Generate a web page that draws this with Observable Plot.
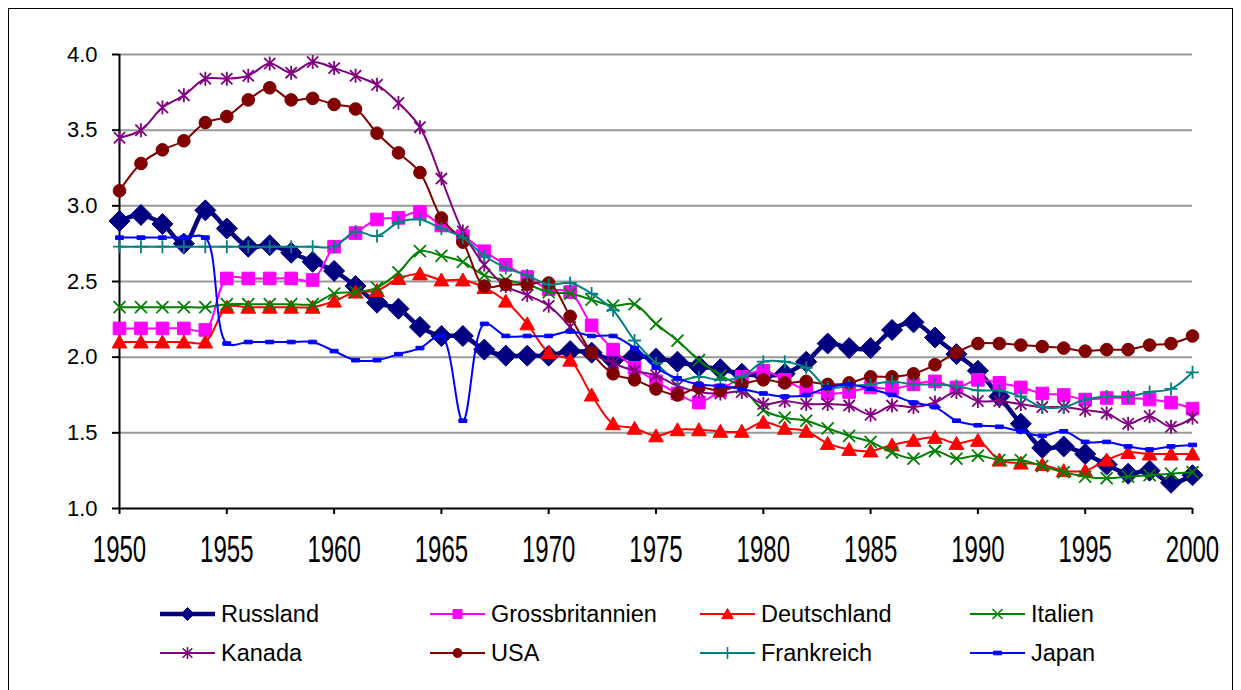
<!DOCTYPE html>
<html><head><meta charset="utf-8">
<script src="https://cdn.jsdelivr.net/npm/d3@7"></script>
<script src="https://cdn.jsdelivr.net/npm/@observablehq/plot@0.6"></script>
<style>
body{margin:0;background:#fff;font-family:"Liberation Sans",Arial,sans-serif;}
#frame{position:absolute;left:8px;top:8px;width:1225px;height:720px;border:1.5px solid #000;box-sizing:border-box;}
#chart{position:absolute;left:0;top:0;}
#legend{position:absolute;left:0;top:0;width:1241px;height:690px;}
.item{position:absolute;height:30px;line-height:30px;display:flex;align-items:center;font-size:23.5px;color:#000;white-space:nowrap;}
.item svg{margin-right:6px;overflow:visible;}
</style></head>
<body>
<div id="frame"></div>
<div id="chart"></div>
<div id="legend"></div>
<script>
const years = [1950,1951,1952,1953,1954,1955,1956,1957,1958,1959,1960,1961,1962,1963,1964,1965,1966,1967,1968,1969,1970,1971,1972,1973,1974,1975,1976,1977,1978,1979,1980,1981,1982,1983,1984,1985,1986,1987,1988,1989,1990,1991,1992,1993,1994,1995,1996,1997,1998,1999,2000];

const russland = [2.90,2.94,2.88,2.75,2.97,2.85,2.73,2.74,2.69,2.63,2.57,2.47,2.36,2.32,2.20,2.14,2.14,2.05,2.01,2.01,2.01,2.04,2.03,1.98,2.01,1.99,1.97,1.94,1.92,1.89,1.88,1.89,1.97,2.09,2.06,2.06,2.18,2.23,2.13,2.02,1.91,1.74,1.56,1.40,1.41,1.36,1.29,1.23,1.25,1.17,1.22];
const grossbritannien = [2.19,2.19,2.19,2.19,2.18,2.52,2.52,2.52,2.52,2.51,2.73,2.82,2.91,2.92,2.96,2.87,2.80,2.70,2.61,2.53,2.45,2.43,2.21,2.05,1.93,1.84,1.76,1.70,1.78,1.87,1.91,1.85,1.78,1.76,1.77,1.80,1.79,1.82,1.84,1.80,1.85,1.83,1.80,1.76,1.75,1.72,1.73,1.73,1.72,1.70,1.66];
const deutschland = [2.10,2.10,2.10,2.10,2.10,2.33,2.33,2.33,2.33,2.33,2.37,2.43,2.44,2.52,2.55,2.51,2.51,2.46,2.37,2.22,2.03,1.98,1.75,1.56,1.53,1.48,1.52,1.52,1.51,1.51,1.57,1.53,1.51,1.43,1.39,1.38,1.42,1.45,1.47,1.43,1.45,1.32,1.30,1.29,1.25,1.25,1.32,1.37,1.36,1.36,1.36];
const italien = [2.33,2.33,2.33,2.33,2.33,2.35,2.35,2.35,2.35,2.35,2.42,2.43,2.46,2.56,2.70,2.67,2.63,2.54,2.51,2.48,2.43,2.42,2.38,2.34,2.35,2.22,2.11,1.98,1.88,1.80,1.65,1.60,1.58,1.53,1.48,1.44,1.37,1.33,1.38,1.33,1.35,1.32,1.32,1.28,1.24,1.21,1.20,1.21,1.22,1.23,1.24];
const kanada = [3.45,3.50,3.65,3.73,3.84,3.84,3.86,3.94,3.88,3.95,3.91,3.86,3.80,3.68,3.52,3.18,2.83,2.61,2.47,2.41,2.34,2.20,2.03,1.96,1.91,1.88,1.81,1.77,1.76,1.77,1.69,1.71,1.69,1.69,1.68,1.62,1.68,1.67,1.70,1.77,1.71,1.71,1.69,1.67,1.67,1.65,1.63,1.56,1.61,1.54,1.60];
const usa = [3.10,3.28,3.37,3.43,3.55,3.59,3.70,3.78,3.70,3.71,3.67,3.64,3.48,3.35,3.22,2.92,2.76,2.47,2.48,2.48,2.49,2.27,2.03,1.89,1.85,1.79,1.75,1.80,1.78,1.82,1.85,1.83,1.84,1.82,1.83,1.87,1.87,1.89,1.95,2.03,2.09,2.09,2.08,2.07,2.06,2.04,2.05,2.05,2.08,2.09,2.14];
const frankreich = [2.73,2.73,2.73,2.73,2.73,2.73,2.73,2.73,2.73,2.73,2.73,2.83,2.80,2.89,2.91,2.85,2.79,2.67,2.59,2.54,2.48,2.49,2.42,2.31,2.11,1.96,1.85,1.87,1.85,1.87,1.97,1.97,1.93,1.80,1.81,1.82,1.84,1.82,1.82,1.81,1.78,1.78,1.74,1.67,1.67,1.72,1.74,1.74,1.77,1.79,1.90];
const japan = [2.79,2.79,2.79,2.79,2.79,2.09,2.10,2.10,2.10,2.10,2.04,1.98,1.98,2.02,2.06,2.14,1.58,2.22,2.14,2.14,2.14,2.17,2.14,2.14,2.06,1.93,1.86,1.82,1.81,1.79,1.76,1.74,1.75,1.80,1.82,1.79,1.75,1.70,1.67,1.58,1.55,1.54,1.51,1.48,1.51,1.44,1.44,1.41,1.39,1.41,1.42];

const seriesNames = ["Russland","Grossbritannien","Deutschland","Italien","Kanada","USA","Frankreich","Japan"];
const seriesValues = [russland,grossbritannien,deutschland,italien,kanada,usa,frankreich,japan];
const seriesColors = ["#000080","#FF00FF","#FF0000","#008000","#800080","#800000","#008080","#0000FF"];
const yTicks = [1.0,1.5,2.0,2.5,3.0,3.5,4.0];
const xTicks = [1950,1955,1960,1965,1970,1975,1980,1985,1990,1995,2000];

// custom marker shapes (r = half size in px)
function sym(fn){ return {draw(c,size){ fn(c, Math.sqrt(size/Math.PI)); }}; }
const diamondS = sym((c,r)=>{c.moveTo(0,-r);c.lineTo(r,0);c.lineTo(0,r);c.lineTo(-r,0);c.closePath();});
const squareS = sym((c,r)=>{c.rect(-r,-r,2*r,2*r);});
const triangleS = sym((c,r)=>{c.moveTo(0,-r);c.lineTo(r*1.05,r*0.85);c.lineTo(-r*1.05,r*0.85);c.closePath();});
const circleS = sym((c,r)=>{c.moveTo(r,0);c.arc(0,0,r,0,2*Math.PI);});
const timesS = sym((c,r)=>{c.moveTo(-r,-r);c.lineTo(r,r);c.moveTo(-r,r);c.lineTo(r,-r);});
const plusS = sym((c,r)=>{c.moveTo(-r,0);c.lineTo(r,0);c.moveTo(0,-r);c.lineTo(0,r);});
const asteriskS = sym((c,r)=>{const a=r*0.8;c.moveTo(-a,-a);c.lineTo(a,a);c.moveTo(-a,a);c.lineTo(a,-a);c.moveTo(0,-r);c.lineTo(0,r);});
const dashS = sym((c,r)=>{c.rect(-r,-r*0.45,2*r,r*0.9);});

const styles = [
  {symbol:diamondS, r:10.5, filled:true, lw:4.5, lr:6.5},
  {symbol:squareS, r:6.3, filled:true, lw:2, lr:4.5},
  {symbol:triangleS, r:7, filled:true, lw:2, lr:5.5},
  {symbol:timesS, r:6, filled:false, lw:2, lr:5},
  {symbol:asteriskS, r:7, filled:false, lw:2, lr:6},
  {symbol:circleS, r:6.3, filled:true, lw:2, lr:4.5},
  {symbol:plusS, r:6.5, filled:false, lw:2, lr:6},
  {symbol:dashS, r:4, filled:true, lw:2, lr:4}
];

const rows = [];
seriesNames.forEach((name,si)=>{
  years.forEach((yr,i)=>rows.push({series:name, year:yr, value:seriesValues[si][i]}));
});

const seriesMarks = [];
seriesNames.forEach((name,si)=>{
  const data = rows.filter(d=>d.series===name);
  const st = styles[si], col = seriesColors[si];
  seriesMarks.push(Plot.line(data,{x:"year",y:"value",stroke:col,strokeWidth:st.lw,curve:"catmull-rom"}));
  seriesMarks.push(Plot.dot(data,{x:"year",y:"value",symbol:()=>st.symbol,r:st.r,
    fill: st.filled ? col : "none", stroke: col, strokeWidth: st.filled ? 1 : 1.8}));
});

const chart = Plot.plot({
  width:1241, height:570,
  marginLeft:119, marginRight:49, marginTop:54, marginBottom:62,
  style:{fontFamily:"'Liberation Sans', Arial, sans-serif", fontSize:"22px", background:"transparent", color:"#000", overflow:"visible"},
  x:{domain:[1950,2000]},
  y:{domain:[1,4]},
  marks:[
    Plot.ruleY(yTicks.slice(1),{stroke:"#999",strokeWidth:2}),
    Plot.axisY({ticks:yTicks, tickSize:7, tickPadding:15, tickFormat:d=>d.toFixed(1), label:null, strokeWidth:2, fontSize:22}),
    Plot.axisX({ticks:xTicks, tickSize:6, tickPadding:21, tickFormat:d=>String(d), label:null, strokeWidth:2, fontSize:24}),
    Plot.ruleX([1950],{stroke:"#000",strokeWidth:2}),
    Plot.ruleY([1],{stroke:"#000",strokeWidth:2}),
    ...seriesMarks
  ]
});
document.getElementById("chart").appendChild(chart);

// stretch x tick labels vertically as in the reference
chart.querySelectorAll('g[aria-label="x-axis tick label"] text').forEach(t=>{
  const tr = t.getAttribute("transform");
  if (tr) {
    t.setAttribute("transform", tr + " scale(1,1.55)");
  } else {
    const x = t.getAttribute("x")||0, y = t.getAttribute("y")||0;
    t.removeAttribute("x"); t.removeAttribute("y");
    t.setAttribute("transform", `translate(${x},${y}) scale(1,1.55)`);
  }
});

// legend
const legend = document.getElementById("legend");
const colX = [160,430,700,970];
const rowY = [614,653];
seriesNames.forEach((name,si)=>{
  const st = styles[si], col = seriesColors[si];
  const div = document.createElement("div");
  div.className = "item";
  div.style.left = colX[si%4] + "px";
  div.style.top = (rowY[Math.floor(si/4)] - 15) + "px";
  const pathD = d3.symbol(st.symbol, Math.PI*st.lr*st.lr)();
  div.innerHTML = `<svg width="55" height="20" viewBox="0 0 55 20">
    <line x1="0" x2="55" y1="10" y2="10" stroke="${col}" stroke-width="${st.lw}"/>
    <path d="${pathD}" transform="translate(27.5,10)" fill="${st.filled?col:'none'}" stroke="${col}" stroke-width="${st.filled?1:1.6}"/>
  </svg><span>${name}</span>`;
  legend.appendChild(div);
});
</script>
</body></html>
